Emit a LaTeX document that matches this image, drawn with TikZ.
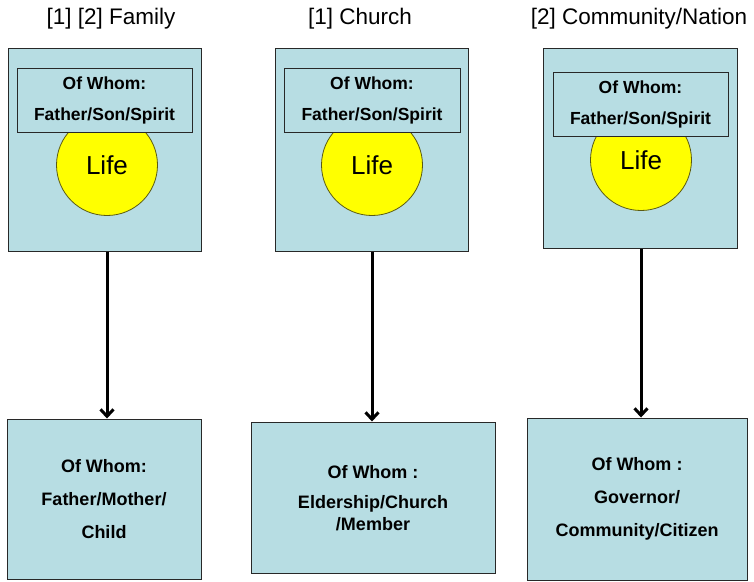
\documentclass[tikz,border=0pt]{standalone}
\usepackage{fontspec}
\setmainfont{Liberation Sans}
\usetikzlibrary{arrows.meta}
\definecolor{boxblue}{RGB}{183,221,227}
\definecolor{lifeyellow}{RGB}{255,255,0}
\definecolor{edgegray}{RGB}{40,40,40}
\definecolor{lifeedge}{RGB}{90,90,20}
\begin{document}
\begin{tikzpicture}[x=1pt,y=-1pt,
  bluebox/.style={draw=edgegray, fill=boxblue, line width=1pt, inner sep=0pt},
  lifedisc/.style={circle, draw=lifeedge, fill=lifeyellow, line width=0.8pt, minimum size=101pt, inner sep=0pt, font=\fontsize{26}{30}\selectfont},
  titletext/.style={font=\fontsize{22.5}{26}\selectfont},
  innertext/.style={font=\bfseries\fontsize{17.5}{31}\selectfont, align=center},
  lowtext/.style={font=\bfseries\fontsize{18}{33}\selectfont, align=center},
  link/.style={-{Straight Barb[length=7pt,width=13pt]}, line width=3pt}
]
\useasboundingbox (0,0) rectangle (754,581);

% titles
\node[titletext] (h1) at (111,19) {[1] [2] Family};
\node[titletext] (h2) at (360,19) {[1] Church};
\node[titletext] (h3) at (639,19) {[2] Community/Nation};

% top boxes
\node[bluebox, minimum width=193pt, minimum height=203pt] (t1) at (104.5,149.5) {};
\node[bluebox, minimum width=193pt, minimum height=203pt] (t2) at (371.5,149.5) {};
\node[bluebox, minimum width=194pt, minimum height=200pt] (t3) at (640,148) {};

% life discs
\node[lifedisc] (c1) at (107,165) {Life};
\node[lifedisc] (c2) at (372,165) {Life};
\node[lifedisc] (c3) at (641,160) {Life};

% inner boxes
\node[bluebox, minimum width=175pt, minimum height=64pt] (i1) at (104.5,100) {};
\node[bluebox, minimum width=176pt, minimum height=64pt] (i2) at (372,100) {};
\node[bluebox, minimum width=175pt, minimum height=64pt] (i3) at (640.5,104) {};
\node[innertext] (it1) at (i1.center) {Of Whom:\\Father/Son/Spirit};
\node[innertext] (it2) at (i2.center) {Of Whom:\\Father/Son/Spirit};
\node[innertext] (it3) at (i3.center) {Of Whom:\\Father/Son/Spirit};

% bottom boxes
\node[bluebox, minimum width=194pt, minimum height=160pt] (b1) at (104,499) {};
\node[bluebox, minimum width=244pt, minimum height=151pt] (b2) at (373,497.5) {};
\node[bluebox, minimum width=220pt, minimum height=162pt] (b3) at (637,499) {};
\node[lowtext] (bt1) at (b1.center) {Of Whom:\\Father/Mother/\\Child};
\node[lowtext, font=\bfseries\fontsize{18}{30}\selectfont] (bt2) at (373,498) {Of Whom :\\Eldership/Church\\[-8pt]/Member};
\node[lowtext] (bt3) at (b3.center) {Of Whom :\\Governor/\\Community/Citizen};

% connectors
\draw[link] (c1 |- t1.south) -- (c1 |- b1.north);
\draw[link] (c2 |- t2.south) -- (c2 |- b2.north);
\draw[link] (c3 |- t3.south) -- (c3 |- b3.north);
\end{tikzpicture}
\end{document}
